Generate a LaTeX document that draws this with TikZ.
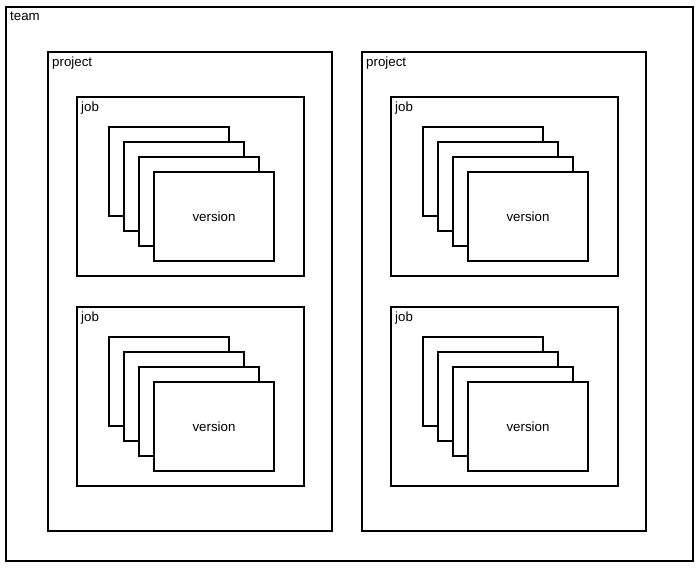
\documentclass[tikz,border=0pt]{standalone}
\usepackage{fontspec}
\setmainfont{Liberation Sans}
\begin{document}
\begin{tikzpicture}[x=1pt,y=-1pt,
  box/.style={draw, line width=1.2pt, inner sep=0pt, outer sep=0pt, anchor=north west, fill=white},
  lbl/.style={font=\fontsize{13.3}{15}\selectfont, anchor=base west, inner sep=0pt}]
\useasboundingbox (0,0) rectangle (698,567);
\node[box, minimum width=687pt, minimum height=554pt] (team) at (6,7) {};
\node[lbl] (teamlbl) at ([xshift=4pt,yshift=-14pt]team.north west) {team};
\foreach \p/\px in {1/48, 2/362} {
  \node[box, minimum width=284pt, minimum height=479pt] (p\p) at (\px,52) {};
  \node[lbl] (p\p lbl) at ([xshift=4pt,yshift=-14.5pt]p\p.north west) {project};
  \foreach \j/\jy in {1/97, 2/307} {
    \node[box, minimum width=227pt, minimum height=179pt] (j\p\j) at (\px+29,\jy) {};
    \node[lbl] (j\p\j lbl) at ([xshift=4pt,yshift=-14pt]j\p\j.north west) {job};
    \foreach \v in {0,1,2} {
      \node[box, minimum width=120pt, minimum height=89pt] (v\p\j\v) at (\px+61+15*\v,\jy+30+15*\v) {};
    }
    \node[box, minimum width=120pt, minimum height=89pt, font=\fontsize{13.3}{15}\selectfont] (v\p\j3) at (\px+106,\jy+75) {version};
  }
}
\end{tikzpicture}
\end{document}
